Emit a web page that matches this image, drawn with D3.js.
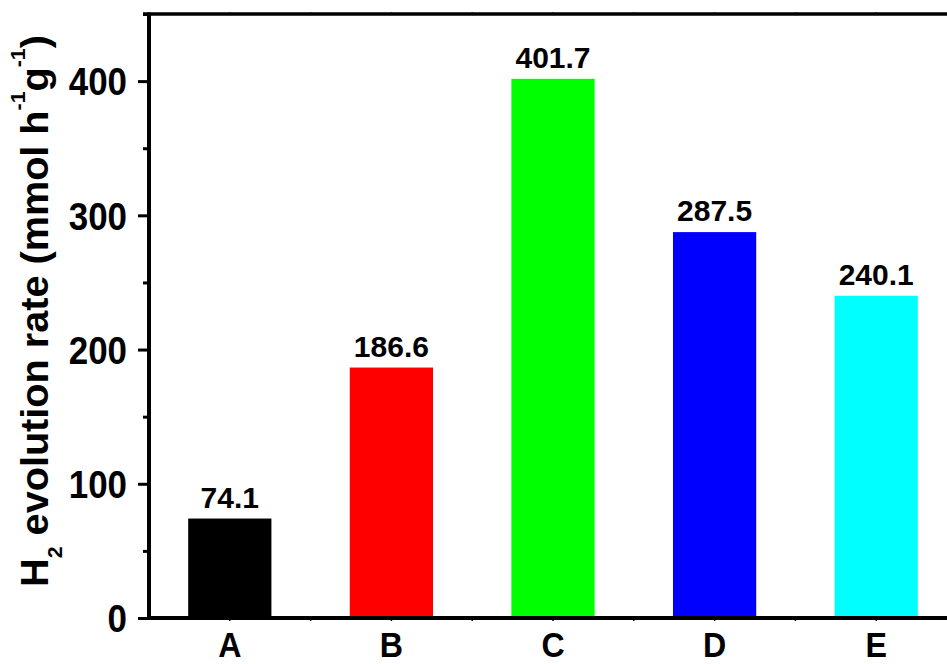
<!DOCTYPE html>
<html>
<head>
<meta charset="utf-8">
<script src="https://cdn.jsdelivr.net/npm/d3@7"></script>
<style>
  html, body { margin: 0; padding: 0; background: #fff; }
  svg { display: block; }
  text { font-family: "Liberation Sans", Arial, sans-serif; font-weight: bold; fill: #000; }
</style>
</head>
<body>
<svg id="chart" width="947" height="664"></svg>
<script>
// data
const categories = ['A', 'B', 'C', 'D', 'E']
const rates = [74.1, 186.6, 401.7, 287.5, 240.1]
const barColors = ['#000000', '#ff0000', '#00ff00', '#0000ff', '#00ffff']
const majorTicks = [0, 100, 200, 300, 400]
const minorTicks = [50, 150, 250, 350, 450]

const svg = d3.select('#chart')

// plot frame (right side runs past the window, as in the original)
const plotLeft = 149
const plotRight = 957
const plotTop = 14
const plotBottom = 618
const squeeze = 0.92 // the original's tick fonts are a bit narrow

const x = d3.scaleBand()
  .domain(categories)
  .range([plotLeft, plotRight])
  .paddingInner(0.485)
  .paddingOuter(0.2425)

const y = d3.scaleLinear()
  .domain([0, 450])
  .range([plotBottom, plotTop])

// bars
svg.append('g')
  .selectAll('rect')
  .data(rates)
  .join('rect')
  .attr('x', (d, i) => x(categories[i]))
  .attr('width', x.bandwidth())
  .attr('y', d => y(d))
  .attr('height', d => y(0) - y(d))
  .attr('fill', (d, i) => barColors[i])

// value labels above the bars
svg.append('g')
  .selectAll('text')
  .data(rates)
  .join('text')
  .attr('x', (d, i) => x(categories[i]) + x.bandwidth() / 2)
  .attr('y', d => y(d) - 11)
  .attr('text-anchor', 'middle')
  .style('font-size', '30px')
  .text(d => d.toFixed(1))

// y axis, major + minor ticks
const yAxis = svg.append('g')
  .attr('transform', `translate(${plotLeft},0)`)
  .call(d3.axisLeft(y).tickValues(majorTicks).tickSize(11).tickPadding(10).tickFormat(d3.format('d')))
yAxis.select('.domain').remove()
yAxis.selectAll('.tick line').attr('stroke', '#000').attr('stroke-width', 3)
yAxis.selectAll('.tick text')
  .style('font-size', '38px')
  .attr('dy', '0.36em')
  .attr('x', -22 / squeeze)
  .attr('transform', `scale(${squeeze},1)`)

const yMinor = svg.append('g')
  .attr('transform', `translate(${plotLeft},0)`)
  .call(d3.axisLeft(y).tickValues(minorTicks).tickSize(6).tickFormat(''))
yMinor.select('.domain').remove()
yMinor.selectAll('.tick line').attr('stroke', '#000').attr('stroke-width', 3)

// x axis: category labels and tiny ticks
const centers = categories.map(c => x(c) + x.bandwidth() / 2)
const bounds = categories.slice(1).map(c => x(c) - x.step() * x.paddingInner() / 2)
const xTicks = centers.concat(bounds)

svg.append('g')
  .selectAll('line')
  .data(xTicks)
  .join('line')
  .attr('x1', d => d).attr('x2', d => d)
  .attr('y1', plotBottom).attr('y2', plotBottom + 3)
  .attr('stroke', '#000').attr('stroke-width', 1.5)

svg.append('g')
  .selectAll('line')
  .data(xTicks)
  .join('line')
  .attr('x1', d => d).attr('x2', d => d)
  .attr('y1', plotTop).attr('y2', plotTop - 2)
  .attr('stroke', '#555').attr('stroke-width', 1.5)

svg.append('g')
  .selectAll('text')
  .data(categories)
  .join('text')
  .attr('transform', d => `translate(${x(d) + x.bandwidth() / 2},657) scale(${squeeze},1)`)
  .attr('text-anchor', 'middle')
  .style('font-size', '35px')
  .text(d => d)

// frame lines
svg.append('line')
  .attr('x1', plotLeft - 2).attr('x2', plotRight).attr('y1', plotBottom).attr('y2', plotBottom)
  .attr('stroke', '#000').attr('stroke-width', 4)
svg.append('line')
  .attr('x1', plotLeft).attr('x2', plotLeft).attr('y1', plotTop - 1.5).attr('y2', plotBottom + 2)
  .attr('stroke', '#000').attr('stroke-width', 4)
svg.append('line')
  .attr('x1', plotLeft - 6).attr('x2', plotRight).attr('y1', plotTop).attr('y2', plotTop)
  .attr('stroke', '#000').attr('stroke-width', 3.5)
svg.append('line')
  .attr('x1', plotRight).attr('x2', plotRight).attr('y1', plotTop).attr('y2', plotBottom)
  .attr('stroke', '#000').attr('stroke-width', 4)

// y axis title with sub/superscripts
const title = svg.append('text')
  .attr('text-anchor', 'middle')
  .style('font-size', '39px')
title.append('tspan').text('H')
title.append('tspan').attr('dy', 14).style('font-size', '21px').text('2')
title.append('tspan').attr('dy', -14).text(' evolution rate (mmol h')
title.append('tspan').attr('dy', -23).style('font-size', '21px').text('-1')
title.append('tspan').attr('dy', 23).text('g')
title.append('tspan').attr('dy', -23).style('font-size', '21px').text('-1')
title.append('tspan').attr('dy', 23).text(')')

// stretch along the text direction to span the same length as the original
const len = title.node().getComputedTextLength()
const sx = 552 / len
title.attr('transform', `translate(48,311) rotate(-90) scale(${sx},1)`)
</script>
</body>
</html>
